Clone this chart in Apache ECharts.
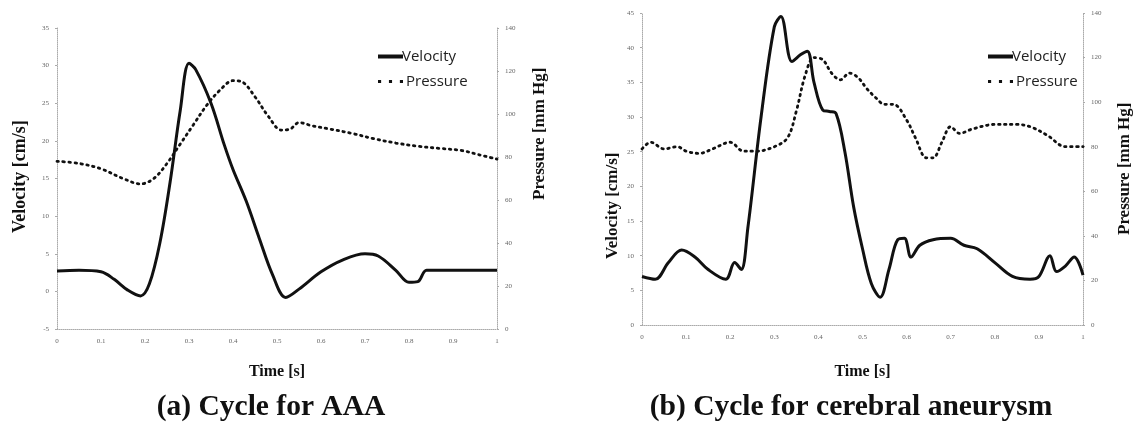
<!DOCTYPE html>
<html><head><meta charset="utf-8">
<script src="https://cdn.jsdelivr.net/npm/echarts@6/dist/echarts.min.js"></script>
<style>html,body{margin:0;padding:0;background:#fff}#c{width:1143px;height:428px}</style>
</head><body><div id="c"></div>
<script>
// ---- Data ----
// (a) AAA
const tVelA = [0,0.05,0.1,0.13,0.16,0.19,0.21,0.234,0.257,0.28,0.3,0.315,0.35,0.38,0.4,0.43,0.46,0.49,0.52,0.55,0.6,0.65,0.7,0.73,0.77,0.8,0.82,0.84,0.9,1];
const velA  = [2.7,2.8,2.6,1.6,0.2,-0.6,1,6.5,14.5,24,30.3,29.5,25,19.5,16.2,12,7,2.2,-0.8,0.3,2.6,4.2,5,4.7,2.8,1.2,1.3,2.8,2.8,2.8];
const tPresA = [0,0.05,0.1,0.15,0.19,0.22,0.25,0.28,0.31,0.34,0.37,0.4,0.42,0.45,0.48,0.51,0.53,0.55,0.58,0.62,0.67,0.72,0.77,0.82,0.87,0.92,0.96,1];
const presA  = [78,77,74.5,70,67.5,70,77,86,95,104,111,115.5,115,108,99,92.5,93,96,94.5,93,91,88.5,86.5,85,84,83,81,79];
// (b) cerebral aneurysm
const tVelB = [0,0.03,0.06,0.09,0.12,0.15,0.19,0.21,0.225,0.24,0.27,0.3,0.315,0.34,0.36,0.375,0.39,0.41,0.425,0.44,0.46,0.48,0.5,0.52,0.54,0.56,0.58,0.595,0.61,0.63,0.66,0.7,0.73,0.76,0.8,0.84,0.88,0.9,0.925,0.94,0.96,0.98,1];
const velB  = [7,6.6,9,10.8,9.8,8,6.6,9,8,14,30,43,44.5,38,39,39.5,35,31,30.8,30.5,25,17,11,6,4,8,12.3,12.5,9.8,11.5,12.3,12.5,11.5,11,9,7,6.6,7,10,7.7,8.5,9.8,7.2];
const tPresB = [0,0.02,0.05,0.08,0.1,0.13,0.16,0.2,0.23,0.26,0.3,0.33,0.35,0.37,0.39,0.41,0.43,0.45,0.47,0.49,0.51,0.53,0.55,0.57,0.6,0.62,0.645,0.66,0.68,0.7,0.72,0.75,0.8,0.85,0.88,0.92,0.96,1];
const presB  = [79,82,79,80,78,77,79,82,78,78,80,84,96,112,120,119,113,110,113,111,106,102,99,99,92,84,75,75,82,89,86,88,90,90,89,85,80,80];
// axis ranges / ticks
const velAxisA = {min:-5, max:35, interval:5};
const velAxisB = {min:0, max:45, interval:5};
const presAxis = {min:0, max:140, interval:20};
const timeAxis = {min:0, max:1, interval:0.1};

const zip = (a,b) => a.map((x,i)=>[x,b[i]]);
const serif = '"Liberation Serif","DejaVu Serif",serif';
const tickFont = {fontFamily: serif, fontSize: 7, color: '#666'};
const dotted = {type:'dotted', color:'#aaa', width:1};

function xAx(gi, gap){
  return {type:'value', gridIndex:gi, min:timeAxis.min, max:timeAxis.max, interval:timeAxis.interval,
    axisLine:{show:true, onZero:false, lineStyle:dotted},
    axisTick:{show:false}, splitLine:{show:false},
    axisLabel:Object.assign({margin:9}, tickFont),
    name:'Time [s]', nameLocation:'middle', nameGap:gap,
    nameTextStyle:{fontFamily:serif, fontWeight:'bold', fontSize:16, color:'#111'}};
}
function yAx(gi, pos, r){
  return {type:'value', gridIndex:gi, position:pos, min:r.min, max:r.max, interval:r.interval,
    axisLine:{show:true, onZero:false, lineStyle:dotted},
    axisTick:{show:true, length:2, lineStyle:{color:'#aaa'}}, splitLine:{show:false},
    axisLabel:Object.assign({margin:8}, tickFont)};
}
const velStyle = {color:'#111', width:3, type:'solid'};
const presStyle = {color:'#111', width:2.8, type:[1.5,4.5], cap:'round'};
const dotsIcon = 'path://M0,0h2v2h-2z M7,0h2v2h-2z M14,0h2v2h-2z';
const legFont = {fontFamily:'"Open Sans",sans-serif', fontSize:15, color:'#222'};
function leg(left){
  return {left:left, top:44, orient:'vertical', itemGap:10, itemWidth:25, itemHeight:4,
    textStyle:legFont,
    data:[{name:'Velocity', icon:'rect', textStyle:{padding:[0,0,0,-6]}},
          {name:'Pressure', icon:dotsIcon, textStyle:{padding:[0,0,0,-2]}}]};
}

const chart = echarts.init(document.getElementById('c'), null, {renderer:'canvas'});
chart.setOption({
  animation:false,
  backgroundColor:'#fff',
  grid:[
    {left:57, width:440, top:28, height:301},
    {left:642, width:441, top:13, height:312}
  ],
  xAxis:[xAx(0,35), xAx(1,39)],
  yAxis:[
    yAx(0,'left',velAxisA), yAx(0,'right',presAxis),
    yAx(1,'left',velAxisB), yAx(1,'right',presAxis)
  ],
  legend:[leg(373), leg(983)],
  graphic:[
    {type:'text', x:11, y:233, rotation:Math.PI/2, style:{text:'Velocity [cm/s]', font:'bold 18px '+serif, fill:'#111'}},
    {type:'text', x:531, y:200, rotation:Math.PI/2, style:{text:'Pressure [mm Hg]', font:'bold 17px '+serif, fill:'#111'}},
    {type:'text', x:604, y:259, rotation:Math.PI/2, style:{text:'Velocity [cm/s]', font:'bold 17px '+serif, fill:'#111'}},
    {type:'text', x:1116, y:235, rotation:Math.PI/2, style:{text:'Pressure [mm Hg]', font:'bold 17px '+serif, fill:'#111'}},
    {type:'text', x:271, y:392, style:{text:'(a) Cycle for AAA', font:'bold 29.5px '+serif, fill:'#111', textAlign:'center'}},
    {type:'text', x:851, y:392, style:{text:'(b) Cycle for cerebral aneurysm', font:'bold 29.5px '+serif, fill:'#111', textAlign:'center'}}
  ],
  series:[
    {name:'Velocity', type:'line', xAxisIndex:0, yAxisIndex:0, data:zip(tVelA,velA), smooth:0.35, showSymbol:false, lineStyle:velStyle, itemStyle:{color:'#111'}},
    {name:'Pressure', type:'line', xAxisIndex:0, yAxisIndex:1, data:zip(tPresA,presA), smooth:0.35, showSymbol:false, lineStyle:presStyle, itemStyle:{color:'#111'}},
    {name:'Velocity', type:'line', xAxisIndex:1, yAxisIndex:2, data:zip(tVelB,velB), smooth:0.35, showSymbol:false, lineStyle:velStyle, itemStyle:{color:'#111'}},
    {name:'Pressure', type:'line', xAxisIndex:1, yAxisIndex:3, data:zip(tPresB,presB), smooth:0.35, showSymbol:false, lineStyle:presStyle, itemStyle:{color:'#111'}}
  ]
});
</script></body></html>
